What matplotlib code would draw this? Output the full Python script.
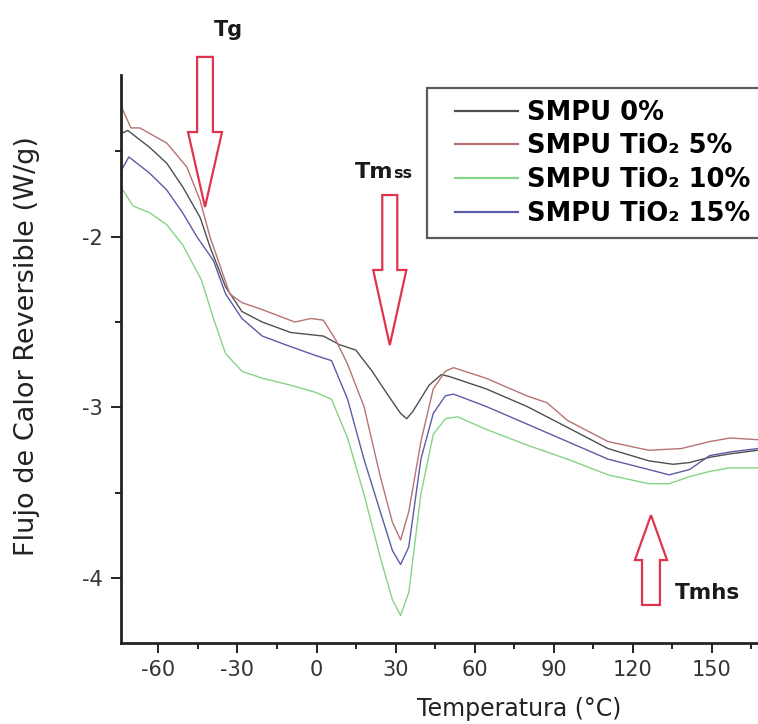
import matplotlib
matplotlib.use("Agg")
import matplotlib.pyplot as plt
from matplotlib.patches import Polygon
from matplotlib.ticker import MultipleLocator
from matplotlib.legend_handler import HandlerLine2D

plt.rcParams['font.family'] = ['DejaVu Sans']

# ---- data ----
labels = ["SMPU 0%", "SMPU TiO\u2082 5%", "SMPU TiO\u2082 10%", "SMPU TiO\u2082 15%"]
colors = ["#4f4f4f", "#b87272", "#86d486", "#5c5ca6"]

t_0 = [-74, -71.6, -63.3, -56.8, -50.7, -44.2, -40.4, -34.5, -28.3, -20.6, -9.8, 2.6, 8.8, 14.9, 21.1,
       27.3, 31.9, 34.2, 36.5, 42.7, 47.3, 50.4, 64.3, 79.8, 95.2, 110.6, 126.1, 135.3, 141.5, 149.2,
       156.9, 167.4]
q_0 = [-1.395, -1.378, -1.477, -1.57, -1.71, -1.886, -2.06, -2.294, -2.438, -2.500, -2.561, -2.582,
       -2.633, -2.664, -2.788, -2.932, -3.035, -3.066, -3.025, -2.870, -2.808, -2.819, -2.891, -2.994,
       -3.117, -3.241, -3.313, -3.333, -3.323, -3.292, -3.272, -3.251]

t_5 = [-74, -70.4, -67, -56.8, -49.2, -44.2, -40.4, -32.9, -28.3, -20.6, -8.2, -2.1, 2.6, 7.2, 11.8,
       18.0, 24.2, 28.8, 31.9, 35.0, 39.6, 44.3, 48.9, 52.0, 64.3, 79.8, 87.5, 95.2, 110.6, 126.1,
       138.4, 149.2, 156.9, 167.4]
q_5 = [-1.24, -1.363, -1.363, -1.452, -1.592, -1.786, -2.002, -2.335, -2.386, -2.427, -2.500, -2.479,
       -2.489, -2.602, -2.747, -2.994, -3.405, -3.673, -3.776, -3.611, -3.200, -2.891, -2.788, -2.767,
       -2.829, -2.932, -2.973, -3.076, -3.200, -3.251, -3.241, -3.200, -3.179, -3.189]

t_10 = [-74, -69.6, -63.3, -56.8, -50.7, -43.7, -39.1, -34.5, -28.3, -20.6, -9.8, -0.5, 5.7, 11.8,
        18.0, 24.2, 28.8, 31.9, 35.0, 39.6, 44.3, 48.9, 53.5, 64.3, 79.8, 95.2, 110.6, 126.1, 133.8,
        141.5, 149.2, 156.9, 167.4]
q_10 = [-1.714, -1.82, -1.86, -1.93, -2.05, -2.252, -2.479, -2.685, -2.788, -2.829, -2.870, -2.911,
        -2.952, -3.179, -3.508, -3.879, -4.126, -4.219, -4.085, -3.508, -3.158, -3.066, -3.055, -3.128,
        -3.220, -3.303, -3.395, -3.447, -3.447, -3.405, -3.375, -3.354, -3.354]

t_15 = [-74, -71.2, -63.3, -56.8, -50.7, -45.4, -39.1, -34.5, -28.3, -20.6, -9.8, -0.5, 5.7, 11.8,
        18.0, 24.2, 28.8, 31.9, 35.0, 39.6, 44.3, 48.9, 52.0, 64.3, 79.8, 95.2, 110.6, 126.1, 133.8,
        141.5, 149.2, 156.9, 167.4]
q_15 = [-1.61, -1.533, -1.628, -1.727, -1.862, -2.0, -2.14, -2.335, -2.479, -2.582, -2.644, -2.695,
        -2.726, -2.952, -3.303, -3.611, -3.838, -3.920, -3.817, -3.303, -3.035, -2.932, -2.922, -2.994,
        -3.097, -3.200, -3.303, -3.364, -3.395, -3.364, -3.282, -3.261, -3.241]

series_t = [t_0, t_5, t_10, t_15]
series_q = [q_0, q_5, q_10, q_15]

xticks = [-60, -30, 0, 30, 60, 90, 120, 150]
yticks = [-2, -3, -4]

# arrows: (x_tip, y_tip, y_headbase, y_tail)
arrow_x = [-42.3, 27.8, 126.9]
arrow_tip = [-1.826, -2.635, -3.631]
arrow_headbase = [-1.387, -2.195, -3.894]
arrow_tail = [-0.947, -1.756, -4.157]
arrow_shaft_hw = [3.0, 2.85, 3.4]
arrow_head_hw = [6.45, 6.3, 6.1]


class ShiftedLineHandler(HandlerLine2D):
    """Legend line handle that starts a little further to the right."""
    shift_px = 12

    def create_artists(self, legend, orig_handle, xdescent, ydescent, width, height,
                       fontsize, trans):
        return super().create_artists(legend, orig_handle, xdescent - self.shift_px, ydescent,
                                      width - self.shift_px, height, fontsize, trans)


# ---- figure ----
fig = plt.figure(figsize=(7.58, 7.24), dpi=100)
ax = fig.add_axes([0.1592, 0.1123, 0.8408, 0.7841])

lines = []
for t, q, c, lab in zip(series_t, series_q, colors, labels):
    ln, = ax.plot(t, q, color=c, lw=1.0, label=lab)
    lines.append(ln)

ax.set_xlim(-74.3, 167.5)
ax.set_ylim(-4.378, -1.053)

for s in ["top", "right"]:
    ax.spines[s].set_visible(False)
for s in ["left", "bottom"]:
    ax.spines[s].set_linewidth(2.0)
    ax.spines[s].set_color("#222222")

ax.set_xticks(xticks)
ax.set_yticks(yticks)
ax.set_xticklabels([str(v) for v in xticks])
ax.set_yticklabels([str(v) for v in yticks])
ax.xaxis.set_minor_locator(MultipleLocator(15))
ax.yaxis.set_minor_locator(MultipleLocator(0.5))
ax.tick_params(which="major", direction="out", length=7.2, width=1.4, color="#222222",
               labelsize=15, labelcolor="#333333", pad=5.5)
ax.tick_params(which="minor", direction="out", length=4.3, width=1.4, color="#222222")

ax.set_xlabel("Temperatura (\u00b0C)", fontsize=17, color="#222222")
ax.xaxis.set_label_coords(0.625, -0.117)
ax.xaxis.label.set_va("center")
ax.set_ylabel("Flujo de Calor Reversible (W/g)", fontsize=19.5, color="#222222")
ax.yaxis.set_label_coords(-0.147, 0.5226)
ax.yaxis.label.set_va("center")

# block arrows
for xt, yt, yhb, ytl, sw, hw in zip(arrow_x, arrow_tip, arrow_headbase, arrow_tail,
                                    arrow_shaft_hw, arrow_head_hw):
    verts = [(xt - sw, ytl), (xt + sw, ytl), (xt + sw, yhb), (xt + hw, yhb), (xt, yt),
             (xt - hw, yhb), (xt - sw, yhb)]
    ax.add_patch(Polygon(verts, closed=True, facecolor="white", edgecolor="#e0344c",
                         lw=1.6, clip_on=False, zorder=3))

ax.text(-33.6, -0.789, "Tg", fontsize=15, fontweight="bold", ha="center", va="center",
        color="#1a1a1a", clip_on=False)
ax.text(29.1, -1.656, "Tm", fontsize=16, fontweight="bold", ha="right", va="baseline",
        color="#1a1a1a")
ax.text(29.1, -1.656, "ss", fontsize=11.5, fontweight="bold", ha="left", va="baseline",
        color="#1a1a1a")
ax.text(136.0, -4.088, "Tmhs", fontsize=15.5, fontweight="bold", ha="left", va="center",
        color="#1a1a1a")

leg = ax.legend(handles=lines, loc="upper left", bbox_to_anchor=(427 / 758, 1 - 88 / 724),
                bbox_transform=fig.transFigure, frameon=True, fancybox=False,
                prop={"weight": "bold", "size": 18.5}, handlelength=3.1, handletextpad=0.36,
                labelspacing=0.3, borderpad=0.45, borderaxespad=0.0,
                handler_map={ln: ShiftedLineHandler() for ln in lines})
leg.get_frame().set_edgecolor("#333333")
leg.get_frame().set_linewidth(1.6)
for line in leg.get_lines():
    line.set_linewidth(1.6)

fig.savefig("out.png", dpi=100)
